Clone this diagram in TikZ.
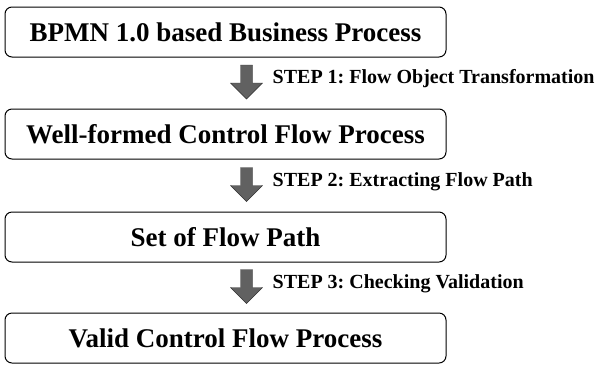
\documentclass[tikz,border=0pt]{standalone}
\usepackage{fontspec}
\setmainfont{Liberation Serif}
\frenchspacing
\usetikzlibrary{positioning,calc,shapes.arrows}
\tikzset{
  procbox/.style={draw, rectangle, rounded corners=7pt, line width=1pt, align=center, font=\bfseries\fontsize{27}{30}\selectfont, minimum width=441pt, minimum height=50pt, inner sep=0pt},
  blockarr/.style={single arrow, draw=black!80, fill=black!62, shape border rotate=270, minimum width=32pt, single arrow head extend=7pt, single arrow head indent=0pt, minimum height=34pt, inner sep=4pt},
  steplbl/.style={font=\bfseries\fontsize{20}{22}\selectfont, anchor=west, inner sep=0pt},
}
\begin{document}
\begin{tikzpicture}[x=1pt, y=-1pt]
\useasboundingbox (0,0) rectangle (601,365);
\node[procbox] (bpmn) at (225.5,32) {BPMN 1.0 based Business Process};
\node[procbox] (wfcf) at (225.5,134) {Well-formed Control Flow Process};
\node[procbox] (path) at (225.5,237) {Set of Flow Path};
\node[procbox] (valid) at (225.5,338) {Valid Control Flow Process};
% transformation steps
\node[blockarr] (a1) at ($(bpmn.south)!0.5!(wfcf.north) + (21,-4)$) {};
\node[blockarr] (a2) at ($(wfcf.south)!0.5!(path.north) + (21,-4)$) {};
\node[blockarr] (a3) at ($(path.south)!0.5!(valid.north) + (21,-4)$) {};
\node[steplbl, right=26pt of a1.center] (s1) {STEP 1: Flow Object Transformation};
\node[steplbl, right=26pt of a2.center] (s2) {STEP 2: Extracting Flow Path};
\node[steplbl, right=26pt of a3.center] (s3) {STEP 3: Checking Validation};
\end{tikzpicture}
\end{document}
